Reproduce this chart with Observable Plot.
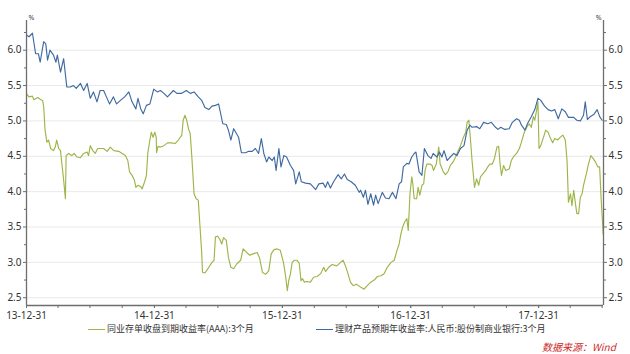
<!DOCTYPE html>
<html><head><meta charset="utf-8">
<script src="https://cdn.jsdelivr.net/npm/d3@7"></script>
<script src="https://cdn.jsdelivr.net/npm/@observablehq/plot@0.6"></script>
<style>
html,body{margin:0;padding:0;background:#fff;}
body{width:630px;height:354px;overflow:hidden;position:relative;font-family:"Noto Sans","Noto Sans CJK SC",sans-serif;}
#chart{position:absolute;left:0;top:0;}
.leg{position:absolute;top:322px;font-family:"Noto Sans CJK SC",sans-serif;font-size:9px;color:#333;white-space:nowrap;line-height:14px;}
.leg .sw{display:inline-block;width:17px;height:0;border-top:1.3px solid;vertical-align:middle;margin-right:2px;}
#src{position:absolute;left:542px;top:340px;font-family:"Noto Sans CJK SC",sans-serif;font-size:10px;line-height:14px;color:#cc2a2a;font-style:italic;white-space:nowrap;}
</style></head>
<body>
<div id="chart"></div>
<div id="leg0" class="leg" style="left:88px"></div>
<div id="leg1" class="leg" style="left:316px"></div>
<div id="src"></div>
<script>
// ---- data ----
const seriesNames = ["同业存单收盘到期收益率(AAA):3个月", "理财产品预期年收益率:人民币:股份制商业银行:3个月"];
const seriesColors = ["#9db54a", "#3f6aa0"];
const sourceText = "数据来源：Wind";
const unitLabel = "%";
const xTickLabels = ["13-12-31", "14-12-31", "15-12-31", "16-12-31", "17-12-31"];
const xEndDate = "2018-07-04";
const yDomain = [2.39, 6.42];
const yMajor = [2.5, 3.0, 3.5, 4.0, 4.5, 5.0, 5.5, 6.0];
const yMinor = [2.75, 3.25, 3.75, 4.25, 4.75, 5.25, 5.75, 6.25];

// 同业存单收盘到期收益率(AAA):3个月
const ncdYield = [
["2014-01-01",5.38],["2014-01-07",5.34],["2014-01-17",5.35],["2014-01-21",5.30],["2014-02-01",5.33],["2014-02-10",5.30],["2014-02-15",5.29],["2014-02-18",5.20],["2014-02-22",4.87],["2014-02-27",4.70],["2014-03-04",4.73],["2014-03-10",4.61],["2014-03-18",4.58],["2014-03-23",4.63],["2014-03-27",4.73],["2014-04-02",4.61],["2014-04-07",4.58],["2014-04-11",4.39],["2014-04-16",4.16],["2014-04-21",3.90],["2014-04-23",4.51],["2014-04-30",4.54],["2014-05-09",4.51],["2014-05-16",4.54],["2014-05-24",4.49],["2014-06-03",4.48],["2014-06-12",4.54],["2014-06-22",4.56],["2014-06-26",4.51],["2014-07-01",4.65],["2014-07-08",4.58],["2014-07-15",4.54],["2014-07-22",4.61],["2014-07-29",4.61],["2014-08-08",4.61],["2014-08-18",4.57],["2014-08-27",4.63],["2014-09-06",4.58],["2014-09-20",4.57],["2014-09-30",4.54],["2014-10-09",4.51],["2014-10-16",4.44],["2014-10-21",4.28],["2014-10-28",4.23],["2014-11-04",4.16],["2014-11-08",4.06],["2014-11-14",4.09],["2014-11-22",4.07],["2014-11-26",4.04],["2014-12-03",4.14],["2014-12-08",4.23],["2014-12-12",4.54],["2014-12-18",4.73],["2014-12-22",4.84],["2014-12-27",4.77],
["2015-01-01",4.84],["2015-01-05",4.77],["2015-01-06",4.55],["2015-01-10",4.64],["2015-01-17",4.63],["2015-01-27",4.65],["2015-02-06",4.69],["2015-02-18",4.69],["2015-02-28",4.68],["2015-03-09",4.73],["2015-03-19",4.80],["2015-03-23",5.01],["2015-03-28",5.08],["2015-04-02",5.01],["2015-04-07",4.89],["2015-04-12",4.82],["2015-04-16",4.54],["2015-04-19",4.30],["2015-04-23",3.97],["2015-04-29",3.90],["2015-05-05",3.88],["2015-05-10",3.50],["2015-05-15",3.12],["2015-05-17",2.86],["2015-05-24",2.85],["2015-06-04",2.93],["2015-06-13",3.00],["2015-06-19",3.03],["2015-06-23",3.36],["2015-06-29",3.37],["2015-07-05",3.33],["2015-07-11",3.26],["2015-07-16",3.35],["2015-07-24",3.31],["2015-07-30",3.07],["2015-08-06",2.93],["2015-08-14",2.91],["2015-08-23",2.98],["2015-09-03",3.03],["2015-09-10",3.19],["2015-09-20",3.14],["2015-09-29",3.10],["2015-10-08",3.12],["2015-10-20",3.14],["2015-10-27",3.06],["2015-11-04",2.86],["2015-11-13",2.83],["2015-11-22",2.88],["2015-11-29",3.12],["2015-12-07",3.18],["2015-12-16",3.19],["2015-12-25",3.17],
["2016-01-03",3.00],["2016-01-09",2.81],["2016-01-14",2.60],["2016-01-18",2.74],["2016-01-23",2.84],["2016-01-28",3.00],["2016-02-03",3.03],["2016-02-10",3.03],["2016-02-17",2.99],["2016-02-22",2.74],["2016-02-26",2.77],["2016-03-03",2.72],["2016-03-10",2.73],["2016-03-20",2.72],["2016-03-29",2.79],["2016-04-08",2.80],["2016-04-18",2.84],["2016-04-27",2.93],["2016-05-02",2.87],["2016-05-11",2.93],["2016-05-21",2.97],["2016-06-03",2.95],["2016-06-14",3.00],["2016-06-21",3.03],["2016-06-28",2.95],["2016-07-05",2.84],["2016-07-12",2.72],["2016-07-20",2.67],["2016-07-29",2.69],["2016-08-10",2.65],["2016-08-20",2.62],["2016-08-29",2.67],["2016-09-08",2.72],["2016-09-18",2.75],["2016-09-27",2.80],["2016-10-07",2.81],["2016-10-16",2.84],["2016-10-25",2.93],["2016-11-05",3.00],["2016-11-14",3.03],["2016-11-22",3.17],["2016-11-28",3.26],["2016-12-03",3.40],["2016-12-08",3.50],["2016-12-14",3.57],["2016-12-20",3.62],["2016-12-24",3.45],["2016-12-29",3.97],
["2017-01-03",4.21],["2017-01-06",4.11],["2017-01-10",3.90],["2017-01-17",3.90],["2017-01-21",4.06],["2017-01-26",3.95],["2017-02-01",4.09],["2017-02-06",4.11],["2017-02-10",4.30],["2017-02-15",4.39],["2017-02-25",4.39],["2017-03-02",4.37],["2017-03-06",4.30],["2017-03-14",4.39],["2017-03-21",4.63],["2017-03-25",4.39],["2017-04-03",4.28],["2017-04-09",4.24],["2017-04-16",4.28],["2017-04-23",4.37],["2017-05-01",4.42],["2017-05-08",4.49],["2017-05-14",4.56],["2017-05-22",4.65],["2017-05-29",4.75],["2017-06-06",4.84],["2017-06-10",4.98],["2017-06-15",5.01],["2017-06-19",4.77],["2017-06-24",4.44],["2017-07-01",4.06],["2017-07-07",4.18],["2017-07-13",4.09],["2017-07-18",4.21],["2017-07-25",4.25],["2017-08-02",4.30],["2017-08-08",4.35],["2017-08-14",4.39],["2017-08-21",4.39],["2017-08-27",4.47],["2017-09-03",4.63],["2017-09-08",4.64],["2017-09-12",4.39],["2017-09-16",4.23],["2017-09-22",4.37],["2017-09-28",4.30],["2017-10-08",4.32],["2017-10-14",4.44],["2017-10-21",4.50],["2017-10-29",4.54],["2017-11-06",4.61],["2017-11-12",4.70],["2017-11-20",4.84],["2017-11-27",4.91],["2017-12-04",4.96],["2017-12-10",4.91],["2017-12-16",5.06],["2017-12-20",5.01],["2017-12-25",5.15],["2017-12-29",5.27],
["2018-01-01",4.61],["2018-01-06",4.65],["2018-01-14",4.77],["2018-01-20",4.87],["2018-01-27",4.84],["2018-02-03",4.75],["2018-02-09",4.69],["2018-02-15",4.75],["2018-02-23",4.73],["2018-03-03",4.77],["2018-03-10",4.80],["2018-03-17",4.73],["2018-03-22",4.44],["2018-03-26",3.85],["2018-04-01",3.97],["2018-04-05",3.80],["2018-04-10",4.02],["2018-04-15",3.83],["2018-04-19",3.69],["2018-04-24",3.69],["2018-04-29",3.92],["2018-05-04",3.97],["2018-05-08",4.09],["2018-05-16",4.25],["2018-05-22",4.39],["2018-05-29",4.51],["2018-06-04",4.47],["2018-06-11",4.42],["2018-06-18",4.35],["2018-06-23",4.35],["2018-06-27",3.92],["2018-07-02",3.50],["2018-07-03",3.40]
];

// 理财产品预期年收益率:人民币:股份制商业银行:3个月
const wmpYield = [
["2014-01-01",6.21],["2014-01-07",6.19],["2014-01-17",6.24],["2014-01-26",5.95],["2014-02-03",5.95],["2014-02-08",5.83],["2014-02-18",6.12],["2014-02-24",6.09],["2014-03-01",5.86],["2014-03-08",6.00],["2014-03-18",5.93],["2014-03-25",5.83],["2014-03-29",5.93],["2014-04-07",5.69],["2014-04-16",5.88],["2014-04-25",5.48],["2014-05-05",5.48],["2014-05-14",5.50],["2014-05-22",5.46],["2014-06-03",5.53],["2014-06-12",5.43],["2014-06-22",5.53],["2014-07-01",5.32],["2014-07-10",5.41],["2014-07-20",5.27],["2014-07-29",5.43],["2014-08-08",5.43],["2014-08-16",5.34],["2014-08-25",5.24],["2014-09-05",5.34],["2014-09-14",5.24],["2014-09-25",5.29],["2014-10-07",5.34],["2014-10-19",5.41],["2014-10-28",5.27],["2014-11-08",5.17],["2014-11-14",5.32],["2014-11-22",5.17],["2014-11-29",5.10],["2014-12-08",5.22],["2014-12-18",5.24],["2014-12-29",5.45],
["2015-01-08",5.41],["2015-01-17",5.43],["2015-01-27",5.39],["2015-02-06",5.34],["2015-02-23",5.43],["2015-03-05",5.39],["2015-03-19",5.39],["2015-04-01",5.43],["2015-04-12",5.39],["2015-04-23",5.41],["2015-05-05",5.34],["2015-05-15",5.29],["2015-05-24",5.19],["2015-06-04",5.16],["2015-06-13",5.21],["2015-06-23",5.22],["2015-07-02",5.24],["2015-07-14",4.96],["2015-07-24",4.95],["2015-07-30",4.87],["2015-08-06",4.73],["2015-08-14",4.89],["2015-08-28",4.77],["2015-09-05",4.55],["2015-09-17",4.55],["2015-09-26",4.57],["2015-10-06",4.57],["2015-10-15",4.61],["2015-10-24",4.54],["2015-11-01",4.75],["2015-11-08",4.54],["2015-11-16",4.42],["2015-11-22",4.49],["2015-12-02",4.44],["2015-12-08",4.49],["2015-12-13",4.30],["2015-12-21",4.61],["2015-12-27",4.35],
["2016-01-04",4.51],["2016-01-12",4.49],["2016-01-23",4.37],["2016-02-01",4.30],["2016-02-07",4.11],["2016-02-17",4.28],["2016-02-23",4.14],["2016-03-06",4.12],["2016-03-20",4.11],["2016-04-04",4.03],["2016-04-13",4.11],["2016-04-25",4.12],["2016-05-02",4.06],["2016-05-08",4.14],["2016-05-16",4.05],["2016-05-25",4.14],["2016-06-07",4.24],["2016-06-16",4.18],["2016-06-25",4.25],["2016-07-03",4.17],["2016-07-14",4.14],["2016-07-26",4.09],["2016-08-06",3.99],["2016-08-10",4.02],["2016-08-18",3.92],["2016-08-24",4.02],["2016-08-31",3.82],["2016-09-08",3.97],["2016-09-16",3.81],["2016-09-22",3.95],["2016-09-29",3.83],["2016-10-11",3.99],["2016-10-20",3.91],["2016-10-30",3.90],["2016-11-09",3.99],["2016-11-19",3.90],["2016-11-28",4.11],["2016-12-05",4.14],["2016-12-10",4.35],["2016-12-20",4.40],["2016-12-26",4.39],
["2017-01-03",4.49],["2017-01-10",4.54],["2017-01-15",4.56],["2017-01-24",4.28],["2017-02-01",4.23],["2017-02-08",4.61],["2017-02-18",4.51],["2017-02-27",4.47],["2017-03-05",4.54],["2017-03-16",4.49],["2017-03-23",4.56],["2017-03-30",4.49],["2017-04-05",4.58],["2017-04-14",4.44],["2017-04-23",4.49],["2017-05-03",4.54],["2017-05-12",4.51],["2017-05-22",4.61],["2017-06-01",4.65],["2017-06-10",4.87],["2017-06-18",4.94],["2017-06-24",4.91],["2017-07-07",4.92],["2017-07-16",4.89],["2017-07-27",4.98],["2017-08-08",4.96],["2017-08-18",4.98],["2017-08-30",4.91],["2017-09-06",4.88],["2017-09-14",4.91],["2017-09-25",4.88],["2017-10-08",4.89],["2017-10-17",4.98],["2017-10-29",5.03],["2017-11-06",5.01],["2017-11-12",4.94],["2017-11-22",4.87],["2017-11-29",4.96],["2017-12-10",5.06],["2017-12-20",5.16],["2017-12-29",5.32],
["2018-01-06",5.29],["2018-01-17",5.21],["2018-01-27",5.16],["2018-02-06",5.14],["2018-02-15",5.16],["2018-02-25",5.03],["2018-03-07",5.17],["2018-03-17",5.13],["2018-03-26",5.05],["2018-04-10",5.05],["2018-04-19",5.01],["2018-04-29",5.00],["2018-05-08",5.08],["2018-05-13",5.27],["2018-05-19",5.02],["2018-05-27",5.06],["2018-06-06",5.09],["2018-06-16",5.16],["2018-06-23",5.06],["2018-06-30",5.01]
];

// ---- build ----
const parse = d3.utcParse("%Y-%m-%d");
const tickParse = d3.utcParse("%y-%m-%d");
const toRows = (arr, name) => arr.map(([d, v]) => ({date: parse(d), value: v, series: name}));
const rows = [...toRows(ncdYield, seriesNames[0]), ...toRows(wmpYield, seriesNames[1])];
const yearTicks = xTickLabels.map(tickParse);
const xStart = yearTicks[0];
const xEnd = parse(xEndDate);
const quarterTicks = d3.utcMonth.range(d3.utcDay.offset(xStart, 1), d3.utcDay.offset(xEnd, 1), 3).map(d => d3.utcDay.offset(d, -1));
const axisColor = "#6e6e6e";

const chart = Plot.plot({
  width: 630, height: 322,
  marginLeft: 26, marginRight: 27, marginTop: 20, marginBottom: 17,
  x: {type: "utc", domain: [xStart, xEnd]},
  y: {domain: yDomain},
  color: {domain: seriesNames, range: seriesColors},
  style: {fontFamily: '"Noto Sans","Noto Sans CJK SC",sans-serif', fontSize: "10px", color: "#333", background: "#fff", overflow: "visible"},
  marks: [
    Plot.gridY(yMajor, {stroke: "#e9e9e9", strokeOpacity: 1}),
    Plot.line(rows, {x: "date", y: "value", z: "series", stroke: "series", strokeWidth: 1.15, curve: "linear"}),
    Plot.ruleX([xStart, xEnd], {stroke: axisColor, strokeWidth: 1.3}),
    Plot.ruleY([yDomain[0]], {stroke: axisColor, strokeWidth: 1.3}),
    Plot.axisY(yMajor, {anchor: "left", tickSize: 3, tickPadding: 2, tickFormat: d3.format(".1f"), label: null, stroke: axisColor}),
    Plot.axisY(yMinor, {anchor: "left", tickSize: 2, text: null, label: null, stroke: axisColor}),
    Plot.axisY(yMajor, {anchor: "right", tickSize: 3, tickPadding: 2, tickFormat: d3.format(".1f"), label: null, stroke: axisColor}),
    Plot.axisY(yMinor, {anchor: "right", tickSize: 2, text: null, label: null, stroke: axisColor}),
    Plot.axisX(quarterTicks, {anchor: "bottom", tickSize: 3, text: null, label: null, stroke: axisColor}),
    Plot.axisX(yearTicks, {anchor: "bottom", tickSize: 3, tickPadding: 3, tickFormat: d3.utcFormat("%y-%m-%d"), label: null, stroke: axisColor}),
    Plot.text([unitLabel], {frameAnchor: "top-left", dx: 2, dy: -1, lineAnchor: "bottom", textAnchor: "start", fontSize: 7, fill: "#444"}),
    Plot.text([unitLabel], {frameAnchor: "top-right", dx: -2, dy: -1, lineAnchor: "bottom", textAnchor: "end", fontSize: 7, fill: "#444"})
  ]
});
document.getElementById("chart").appendChild(chart);

seriesNames.forEach((name, i) => {
  const el = document.getElementById("leg" + i);
  const sw = document.createElement("span");
  sw.className = "sw";
  sw.style.borderColor = seriesColors[i];
  el.appendChild(sw);
  el.appendChild(document.createTextNode(name));
});
document.getElementById("src").textContent = sourceText;
</script>
</body></html>
